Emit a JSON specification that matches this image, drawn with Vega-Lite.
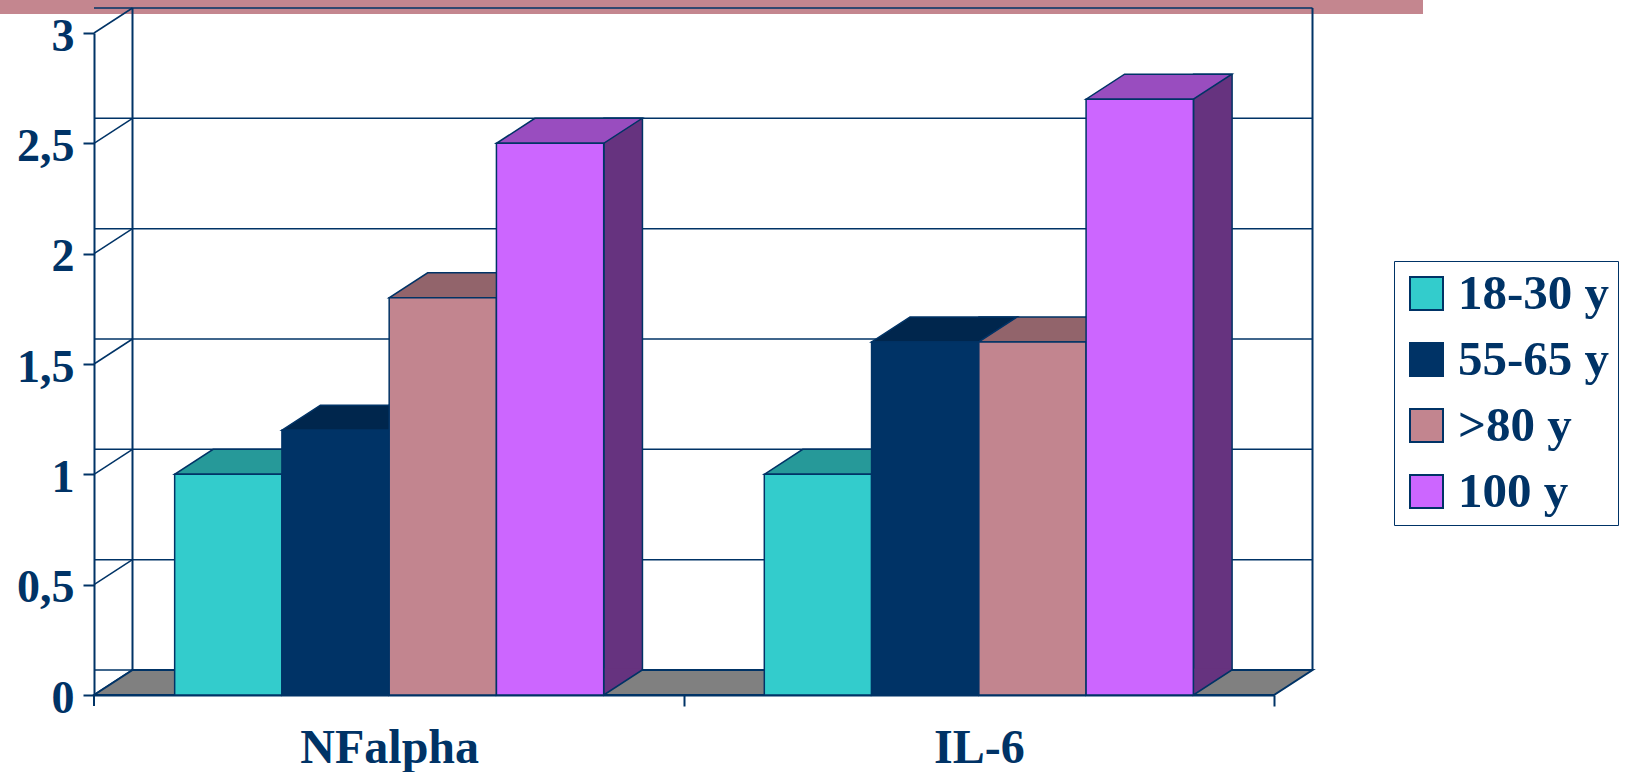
{
  "$schema": "https://vega.github.io/schema/vega-lite/v6.json",
  "width": 1180,
  "height": 662,
  "autosize": {"type": "none"},
  "padding": {"left": 94, "top": 33, "right": 352, "bottom": 77},
  "background": "white",
  "config": {
    "view": {"stroke": null},
    "axis": {
      "domainColor": "#003366",
      "domainWidth": 2,
      "tickColor": "#003366",
      "tickWidth": 2,
      "tickSize": 11,
      "labelFont": "Liberation Serif",
      "labelFontWeight": "bold",
      "labelColor": "#003366",
      "grid": false,
      "title": null
    }
  },
  "datasets": {
    "levels": [
      {"marker": "NFalpha", "age": "18-30 y", "value": 1.0},
      {"marker": "NFalpha", "age": "55-65 y", "value": 1.2},
      {"marker": "NFalpha", "age": ">80 y", "value": 1.8},
      {"marker": "NFalpha", "age": "100 y", "value": 2.5},
      {"marker": "IL-6", "age": "18-30 y", "value": 1.0},
      {"marker": "IL-6", "age": "55-65 y", "value": 1.6},
      {"marker": "IL-6", "age": ">80 y", "value": 1.6},
      {"marker": "IL-6", "age": "100 y", "value": 2.7}
    ],
    "ticks": [
      {"tick": 0}, {"tick": 0.5}, {"tick": 1}, {"tick": 1.5},
      {"tick": 2}, {"tick": 2.5}, {"tick": 3}
    ]
  },
  "resolve": {"scale": {"fill": "independent", "xOffset": "independent"}},
  "layer": [
    {
      "data": {"values": [{}]},
      "mark": {"type": "rect", "color": "#C4868F", "clip": false},
      "encoding": {
        "x": {"value": -94},
        "x2": {"value": 1329},
        "y": {"value": -33},
        "y2": {"value": -19}
      }
    },
    {
      "data": {"name": "ticks"},
      "mark": {"type": "rule", "color": "#003366", "strokeWidth": 1.5, "xOffset": 38.5, "x2Offset": 38.5, "yOffset": -25, "y2Offset": -25},
      "encoding": {
        "y": {"field": "tick", "type": "quantitative", "scale": {"domain": [0, 3]}}
      }
    },
    {
      "data": {"name": "ticks"},
      "mark": {"type": "rule", "color": "#003366", "strokeWidth": 1.5, "y2Offset": -25},
      "encoding": {
        "x": {"value": 0},
        "x2": {"value": 38.5},
        "y": {"field": "tick", "type": "quantitative", "scale": {"domain": [0, 3]}},
        "y2": {"field": "tick"}
      }
    },
    {
      "data": {"values": [{}]},
      "mark": {"type": "rule", "color": "#003366", "strokeWidth": 2, "yOffset": -25, "y2Offset": -25},
      "encoding": {
        "x": {"value": 38.5},
        "y": {"datum": 3, "type": "quantitative", "scale": {"domain": [0, 3]}},
        "y2": {"datum": 0}
      }
    },
    {
      "data": {"values": [{}]},
      "mark": {"type": "rule", "color": "#003366", "strokeWidth": 2, "yOffset": -25, "y2Offset": -25},
      "encoding": {
        "x": {"value": {"expr": "width + 38.5"}},
        "y": {"datum": 3, "type": "quantitative", "scale": {"domain": [0, 3]}},
        "y2": {"datum": 0}
      }
    },
    {
      "data": {"values": [{}]},
      "mark": {"type": "rule", "color": "#003366", "strokeWidth": 2, "y2Offset": 11},
      "encoding": {
        "x": {"value": 0},
        "y": {"datum": 0, "type": "quantitative", "scale": {"domain": [0, 3]}},
        "y2": {"datum": 0}
      }
    },
    {
      "data": {"values": [{}]},
      "mark": {
        "type": "point",
        "shape": "M0,0L1180,0L1218.5,-25L38.5,-25Z",
        "size": 4,
        "filled": true,
        "fill": "#808080",
        "stroke": "#003366",
        "strokeWidth": 2,
        "opacity": 1,
        "fillOpacity": 1,
        "strokeOpacity": 1
      },
      "encoding": {
        "x": {"value": 0},
        "y": {"datum": 0, "type": "quantitative", "scale": {"domain": [0, 3]}}
      }
    },
    {
      "data": {"name": "levels"},
      "mark": {"type": "bar", "width": 38.5, "yOffset": -25, "y2Offset": -25, "stroke": "#003366", "strokeWidth": 1.5},
      "encoding": {
        "x": {"field": "marker", "type": "nominal", "scale": {"domain": ["NFalpha", "IL-6"], "paddingInner": 0.2724, "paddingOuter": 0.1368}},
        "xOffset": {"field": "age", "type": "nominal", "scale": {"type": "band", "domain": ["18-30 y", "55-65 y", ">80 y", "100 y"], "range": [72.9, 502.2], "paddingInner": 0, "paddingOuter": 0}},
        "y": {"field": "value", "type": "quantitative", "scale": {"domain": [0, 3]}},
        "fill": {"field": "age", "type": "nominal", "scale": {"domain": ["18-30 y", "55-65 y", ">80 y", "100 y"], "range": ["#1A6666", "#001A33", "#614348", "#66337F"]}, "legend": null}
      }
    },
    {
      "data": {"name": "levels"},
      "mark": {
        "type": "point",
        "shape": "M53.65,-26.5L53.65,0L92.15,-25L92.15,-26.5",
        "size": 4,
        "filled": true,
        "stroke": "#003366",
        "strokeWidth": 1.5,
        "opacity": 1,
        "fillOpacity": 1,
        "strokeOpacity": 1
      },
      "encoding": {
        "x": {"field": "marker", "type": "nominal", "scale": {"domain": ["NFalpha", "IL-6"], "paddingInner": 0.2724, "paddingOuter": 0.1368}},
        "xOffset": {"field": "age", "type": "nominal", "scale": {"type": "band", "domain": ["18-30 y", "55-65 y", ">80 y", "100 y"], "paddingInner": 0, "paddingOuter": 0}},
        "y": {"datum": 0, "type": "quantitative", "scale": {"domain": [0, 3]}},
        "fill": {"field": "age", "type": "nominal", "scale": {"domain": ["18-30 y", "55-65 y", ">80 y", "100 y"], "range": ["#1A6666", "#001A33", "#614348", "#66337F"]}, "legend": null}
      }
    },
    {
      "data": {"name": "levels"},
      "mark": {
        "type": "point",
        "shape": "M-53.65,0L53.65,0L92.15,-25L-15.15,-25Z",
        "size": 4,
        "filled": true,
        "stroke": "#003366",
        "strokeWidth": 1.5,
        "opacity": 1,
        "fillOpacity": 1,
        "strokeOpacity": 1
      },
      "encoding": {
        "x": {"field": "marker", "type": "nominal", "scale": {"domain": ["NFalpha", "IL-6"], "paddingInner": 0.2724, "paddingOuter": 0.1368}},
        "xOffset": {"field": "age", "type": "nominal", "scale": {"type": "band", "domain": ["18-30 y", "55-65 y", ">80 y", "100 y"], "paddingInner": 0, "paddingOuter": 0}},
        "y": {"field": "value", "type": "quantitative", "scale": {"domain": [0, 3]}},
        "fill": {"field": "age", "type": "nominal", "scale": {"domain": ["18-30 y", "55-65 y", ">80 y", "100 y"], "range": ["#269999", "#00264D", "#92646B", "#994DBF"]}, "legend": null}
      }
    },
    {
      "data": {"name": "levels"},
      "mark": {"type": "bar", "stroke": "#003366", "strokeWidth": 1.5},
      "encoding": {
        "x": {
          "field": "marker",
          "type": "nominal",
          "scale": {"domain": ["NFalpha", "IL-6"], "paddingInner": 0.2724, "paddingOuter": 0.1368},
          "axis": {
            "tickOffset": 295,
            "labelOffset": -295,
            "labelAngle": 0,
            "labelAlign": "center",
            "labelFontSize": 48,
            "labelBaseline": "alphabetic",
            "labelPadding": 56
          }
        },
        "xOffset": {"field": "age", "type": "nominal", "scale": {"type": "band", "domain": ["18-30 y", "55-65 y", ">80 y", "100 y"], "paddingInner": 0, "paddingOuter": 0}},
        "y": {
          "field": "value",
          "type": "quantitative",
          "scale": {"domain": [0, 3]},
          "axis": {
            "values": [0, 0.5, 1, 1.5, 2, 2.5, 3],
            "labelExpr": "replace(format(datum.value, '~g'), '.', ',')",
            "labelFontSize": 46,
            "labelPadding": 9,
            "labelBaseline": "alphabetic",
            "labelOffset": 17
          }
        },
        "color": {
          "field": "age",
          "type": "nominal",
          "scale": {"domain": ["18-30 y", "55-65 y", ">80 y", "100 y"], "range": ["#33CCCC", "#003366", "#C2858F", "#CC66FF"]},
          "legend": {
            "title": null,
            "orient": "none",
            "legendX": 1300,
            "legendY": 228,
            "padding": 8,
            "strokeColor": "#003366",
            "symbolType": "square",
            "symbolSize": 1089,
            "symbolStrokeColor": "#003366",
            "symbolStrokeWidth": 2,
            "symbolOpacity": 1,
            "labelFont": "Liberation Serif",
            "labelFontWeight": "bold",
            "labelFontSize": 49,
            "labelColor": "#003366",
            "labelOffset": 7,
            "rowPadding": 16,
            "labelLimit": 400
          }
        }
      }
    }
  ]
}
